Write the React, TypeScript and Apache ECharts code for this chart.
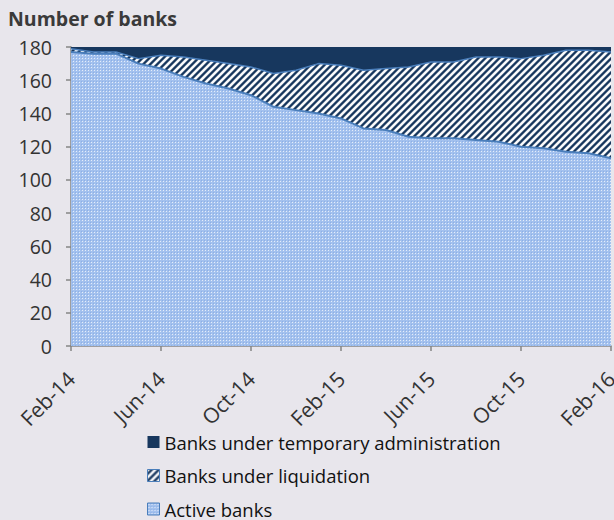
import React, { useEffect, useRef } from "react";
import * as echarts from "echarts";

const months = [
  "Feb-14", "Mar-14", "Apr-14", "May-14", "Jun-14", "Jul-14", "Aug-14", "Sep-14", "Oct-14", "Nov-14", "Dec-14", "Jan-15",
  "Feb-15", "Mar-15", "Apr-15", "May-15", "Jun-15", "Jul-15", "Aug-15", "Sep-15", "Oct-15", "Nov-15", "Dec-15", "Jan-16",
  "Feb-16",
];
const activeBanks = [177, 176, 176, 170, 167, 162, 158, 155, 151, 144, 142, 140, 137, 131, 130, 126, 125, 125, 124, 123, 120, 119, 117, 116, 113];
const liquidationBanks = [2, 1, 1, 3, 8, 12, 14, 15, 17, 20, 24, 30, 32, 35, 37, 42, 46, 46, 50, 51, 53, 56, 61, 62, 64];
const tempAdminBanks = [1, 3, 3, 7, 5, 6, 8, 10, 12, 16, 14, 10, 11, 14, 13, 12, 9, 9, 6, 6, 7, 5, 2, 2, 3];
const yTicks = { min: 0, max: 180, interval: 20 };

const NAVY = "#17375e";
const EDGE = "#4a7ebb";
const BG = "#e8e6ec";

function stripeTile(): string {
  const n = 7;
  const c = document.createElement("canvas");
  c.width = n;
  c.height = n;
  const ctx = c.getContext("2d")!;
  const img = ctx.createImageData(n, n);
  for (let y = 0; y < n; y++) {
    for (let x = 0; x < n; x++) {
      const t = ((x + y) % n) / n;
      const c0 = Math.cos(2 * Math.PI * t);
      const v = Math.max(0, Math.min(1, 0.5 + 0.7 * c0));
      const i = (y * n + x) * 4;
      img.data[i] = 23 + (255 - 23) * v;
      img.data[i + 1] = 55 + (255 - 55) * v;
      img.data[i + 2] = 94 + (255 - 94) * v;
      img.data[i + 3] = 255;
    }
  }
  ctx.putImageData(img, 0, 0);
  return c.toDataURL();
}

function dotTile(): string {
  const n = 3;
  const c = document.createElement("canvas");
  c.width = n;
  c.height = n;
  const ctx = c.getContext("2d")!;
  ctx.fillStyle = "#a3c1ee";
  ctx.fillRect(0, 0, n, n);
  ctx.fillStyle = "#e4edfa";
  ctx.fillRect(1, 1, 1, 1);
  ctx.fillStyle = "#8db0e6";
  ctx.fillRect(0, 0, 1, 1);
  return c.toDataURL();
}

export default function App() {
  const ref = useRef<HTMLDivElement>(null);
  useEffect(() => {
    document.body.style.margin = "0";
    document.body.style.background = BG;
    const chart = echarts.init(ref.current!, null, { renderer: "svg" });
    const stripes: any = { image: stripeTile(), repeat: "repeat", imageWidth: 7, imageHeight: 7 };
    const dots: any = { image: dotTile(), repeat: "repeat", imageWidth: 3, imageHeight: 3 };
    const font = "'Open Sans', sans-serif";
    chart.setOption({
      animation: false,
      backgroundColor: BG,
      title: {
        text: "Number of banks",
        left: 3,
        top: 3,
        textStyle: { fontFamily: font, fontSize: 19.5, fontWeight: "bold", color: "#3a3a3a" },
      },
      grid: { left: 71, right: 3, top: 47, bottom: 174, containLabel: false, outerBoundsMode: "none" },
      legend: {
        orient: "vertical",
        left: 147,
        top: 432,
        height: 88,
        padding: 0,
        itemWidth: 12,
        itemHeight: 12,
        itemGap: 13.5,
        icon: "rect",
        textStyle: { fontFamily: font, fontSize: 18.5, color: "#111", lineHeight: 20 },
        data: [
          { name: "Banks under temporary administration", itemStyle: { color: NAVY } },
          { name: "Banks under liquidation", itemStyle: { color: stripes, borderColor: EDGE, borderWidth: 1 } },
          { name: "Active banks", itemStyle: { color: dots, borderColor: EDGE, borderWidth: 1 } },
        ],
      },
      xAxis: {
        type: "category",
        data: months,
        boundaryGap: false,
        axisLine: { lineStyle: { color: "#868686", width: 1.5 } },
        axisTick: { interval: 3, length: 5, lineStyle: { color: "#868686", width: 1.5 } },
        axisLabel: {
          interval: 3,
          rotate: 45,
          margin: 29,
          fontFamily: font,
          fontSize: 21,
          color: "#333",
        },
        splitLine: { show: false },
      },
      yAxis: {
        type: "value",
        min: yTicks.min,
        max: yTicks.max,
        interval: yTicks.interval,
        axisLine: { show: true, lineStyle: { color: "#868686", width: 1.5 } },
        axisTick: { show: true, length: 5, lineStyle: { color: "#868686", width: 1.5 } },
        axisLabel: { margin: 19, fontFamily: font, fontSize: 19.5, color: "#333" },
        splitLine: { show: false },
      },
      series: [
        {
          name: "Active banks",
          type: "line",
          stack: "total",
          data: activeBanks,
          symbol: "none",
          lineStyle: { color: EDGE, width: 2 },
          itemStyle: { color: dots },
          areaStyle: { color: dots, opacity: 1 },
          z: 3,
        },
        {
          name: "Banks under liquidation",
          type: "line",
          stack: "total",
          data: liquidationBanks,
          symbol: "none",
          lineStyle: { color: EDGE, width: 1.5 },
          itemStyle: { color: stripes },
          areaStyle: { color: stripes, opacity: 1 },
          z: 2,
        },
        {
          name: "Banks under temporary administration",
          type: "line",
          stack: "total",
          data: tempAdminBanks,
          symbol: "none",
          lineStyle: { width: 0, color: NAVY },
          itemStyle: { color: NAVY },
          areaStyle: { color: NAVY, opacity: 1 },
          z: 1,
        },
      ],
    });
    return () => chart.dispose();
  }, []);
  return <div ref={ref} style={{ width: 614, height: 520 }} />;
}
